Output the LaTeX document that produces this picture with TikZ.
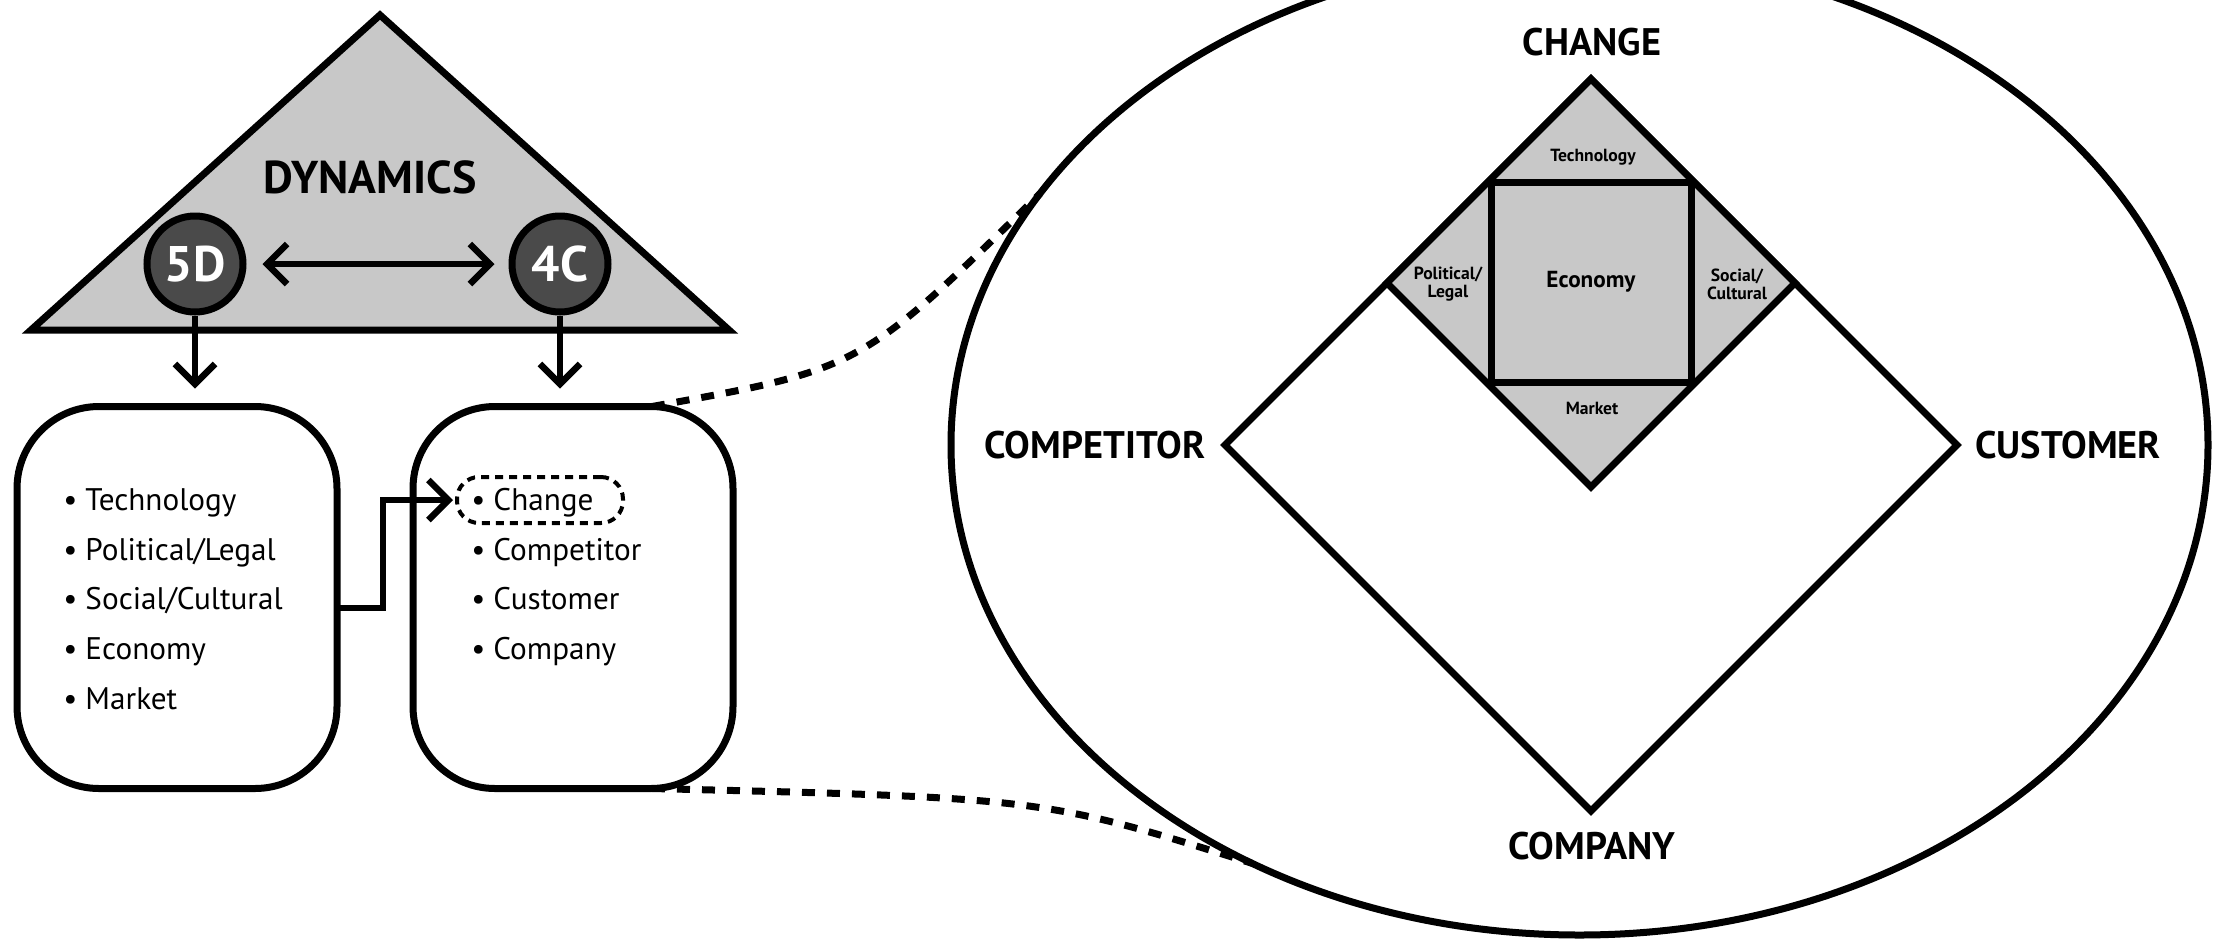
\documentclass[tikz,border=0pt]{standalone}
\usepackage{fontspec}
\setmainfont{PT Sans}
\usetikzlibrary{arrows.meta,shapes.geometric,calc}
\definecolor{figgray}{RGB}{200,200,200}
\definecolor{figdark}{RGB}{74,74,74}
\begin{document}
\begin{tikzpicture}[x=0.5pt,y=-0.5pt,
  heavy/.style={line width=3.5pt},
  arrowline/.style={line width=3.2pt},
  tipend/.style={-{Straight Barb[length=10pt,width=20pt]}},
  tipboth/.style={{Straight Barb[length=10pt,width=20pt]}-{Straight Barb[length=10pt,width=20pt]}},
  circ/.style={circle, draw, heavy, fill=figdark, minimum size=48pt, inner sep=0pt,
    text=white, font=\bfseries\fontsize{25}{30}\selectfont},
  roundbox/.style={draw, heavy, rounded corners=41pt, minimum width=160pt,
    minimum height=191pt, inner sep=0pt, outer sep=0pt},
  item/.style={anchor=base west, inner sep=0pt, font=\fontsize{15.6}{18}\selectfont},
  biglabel/.style={inner sep=0pt, font=\bfseries\fontsize{19.2}{22}\selectfont},
  smalllabel/.style={inner sep=0pt, align=center, font=\bfseries\fontsize{8.8}{9}\selectfont},
  dashline/.style={line width=3.5pt, dash pattern=on 6.5pt off 6pt},
  dia/.style={diamond, draw, heavy, aspect=1, inner sep=0pt, outer sep=0pt, line join=miter}
]
\useasboundingbox (0,0) rectangle (2213,944);
\clip (0,0) rectangle (2213,944);

% ---------- left part ----------
\draw[heavy, fill=figgray, line join=miter] (31,330) -- (380,15) -- (729,330) -- cycle;
\node[inner sep=0pt, font=\bfseries\fontsize{23}{27}\selectfont] (dyn) at (370,177) {DYNAMICS};
\node[circ] (c5d) at (195,264) {5D};
\node[circ] (c4c) at (560,264) {4C};
\draw[arrowline, tipboth, shorten <=8pt, shorten >=7pt] (c5d) -- (c4c);

\node[roundbox] (boxL) at (177,597.5) {};
\node[roundbox] (boxR) at (573,597.5) {};

\draw[arrowline, tipend, shorten >=9pt] (c5d) -- (c5d |- boxL.north);
\draw[arrowline, tipend, shorten >=9pt] (c4c) -- (c4c |- boxR.north);

\node[item] (l1) at (63,510) {\textbullet\hspace{4pt}Technology};
\node[item] (l2) at (63,560) {\textbullet\hspace{4pt}Political/Legal};
\node[item] (l3) at (63,609) {\textbullet\hspace{4pt}Social/Cultural};
\node[item] (l4) at (63,659) {\textbullet\hspace{4pt}Economy};
\node[item] (l5) at (63,709) {\textbullet\hspace{4pt}Market};

\node[item] (r1) at (471,510) {\textbullet\hspace{4pt}Change};
\node[item] (r2) at (471,560) {\textbullet\hspace{4pt}Competitor};
\node[item] (r3) at (471,609) {\textbullet\hspace{4pt}Customer};
\node[item] (r4) at (471,659) {\textbullet\hspace{4pt}Company};

\node[draw, line width=2pt, dash pattern=on 4pt off 3pt, rounded corners=11pt,
  minimum width=83pt, minimum height=23pt, inner sep=0pt, outer sep=0pt] (chgbox) at (540,500) {};

\coordinate (bend) at (383,500);
\draw[arrowline, tipend, shorten >=2pt] ([yshift=-5.25pt]boxL.east) -| (bend) -- (chgbox.west);

% ---------- right part ----------
\node[ellipse, draw, heavy, minimum width=628.5pt, minimum height=490pt, inner sep=0pt, outer sep=0pt]
  (zoomell) at (1579.5,445) {};

\draw[dashline] ([xshift=39.5pt]boxR.north) .. controls (861,369) .. (zoomell.155);
\draw[dashline] ([xshift=39.5pt]boxR.south) .. controls (1044,798) .. (zoomell.232);

\node[dia, fill=white, minimum size=366pt] (bigd) at (1591,445) {};
\node[dia, fill=figgray, minimum size=204pt] (smalld) at (1591,283) {};
\node[draw, heavy, fill=figgray, minimum size=100pt, inner sep=0pt,
  font=\bfseries\fontsize{11.6}{13}\selectfont] (eco) at (1591,282) {Economy};

\node[smalllabel] (tech) at (1593,157) {Technology};
\node[smalllabel] (pol) at (1448,284) {Political/\\Legal};
\node[smalllabel] (soc) at (1737,284) {Social/\\Cultural};
\node[smalllabel] (mkt) at (1592,408) {Market};

\node[biglabel] (lchange) at (1592,42) {CHANGE};
\node[biglabel] (lcompet) at (1095,445) {COMPETITOR};
\node[biglabel] (lcust) at (2068,445) {CUSTOMER};
\node[biglabel] (lcompany) at (1592,846) {COMPANY};
\end{tikzpicture}
\end{document}
